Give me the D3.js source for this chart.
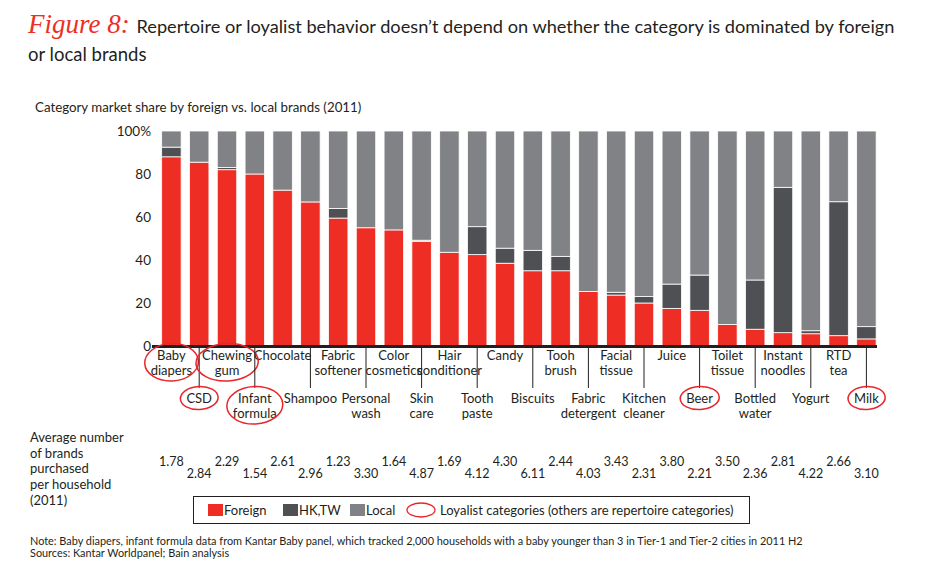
<!DOCTYPE html>
<html><head><meta charset="utf-8">
<script src="https://cdn.jsdelivr.net/npm/d3@7"></script>
<style>
body{margin:0;background:#fff;}
svg{display:block;font-family:Lato,"Open Sans",sans-serif;}
</style></head>
<body><svg id="c" width="950" height="579"></svg>
<script>
const categories = ["Baby\ndiapers","CSD","Chewing\ngum","Infant\nformula","Chocolate","Shampoo","Fabric\nsoftener","Personal\nwash","Color\ncosmetics","Skin\ncare","Hair\nconditioner","Tooth\npaste","Candy","Biscuits","Tooh\nbrush","Fabric\ndetergent","Facial\ntissue","Kitchen\ncleaner","Juice","Beer","Toilet\ntissue","Bottled\nwater","Instant\nnoodles","Yogurt","RTD\ntea","Milk"];
const foreign = [88,85.5,82,80,72.5,67,59.5,55,54,48.7,43.6,42.5,38.5,35,35,25.4,23.7,20,17.5,16.6,10,7.8,6.2,5.7,4.8,3.3];
const hktw    = [4.5,0,1,0,0,0,4.5,0,0,0.5,0,13,7,9.5,6.7,0,1.3,3,11.3,16.4,0,22.9,67.6,1.4,62.3,5.7];
const local   = [7.5,14.5,17,20,27.5,33,36,45,46,50.8,56.4,44.5,54.5,55.5,58.3,74.6,75,77,71.2,67,90,69.3,26.2,92.9,32.9,91];
const avgBrands = ["1.78","2.84","2.29","1.54","2.61","2.96","1.23","3.30","1.64","4.87","1.69","4.12","4.30","6.11","2.44","4.03","3.43","2.31","3.80","2.21","3.50","2.36","2.81","4.22","2.66","3.10"];
const loyalist = ["Baby\ndiapers","CSD","Chewing\ngum","Infant\nformula","Beer","Milk"];
const yTicks = [0,20,40,60,80,100];
const seriesKeys = ["Foreign","HK,TW","Local"];
const colors = {"Foreign":"#ee2e24","HK,TW":"#4f5054","Local":"#808285"};

const svg = d3.select("#c");
const RED = "#ee2e24", INK = "#231f20";

// Title
const t = svg.append("text").attr("x",28).attr("y",33).attr("font-size",18.2).attr("fill",INK);
t.append("tspan").attr("font-family","'Liberation Serif',serif").attr("font-style","italic").attr("fill",RED).attr("font-size",27).text("Figure 8: ");
t.append("tspan").text("Repertoire or loyalist behavior doesn\u2019t depend on whether the category is dominated by foreign");
svg.append("text").attr("x",28).attr("y",61).attr("font-size",18.5).attr("fill",INK).text("or local brands");

svg.append("text").attr("x",35).attr("y",112).attr("font-size",13.3).attr("fill",INK).text("Category market share by foreign vs. local brands (2011)");

// Scales
const x = d3.scaleBand().domain(categories).range([157.5, 157.5+26*27.8]).paddingInner(0.3).paddingOuter(0.15);
const y = d3.scaleLinear().domain([0,100]).range([346,131]);

const rows = categories.map((c,i)=>({cat:c,"Foreign":foreign[i],"HK,TW":hktw[i],"Local":local[i]}));
const stacked = d3.stack().keys(seriesKeys)(rows);

svg.append("g").selectAll("g").data(stacked).join("g")
  .attr("fill",d=>colors[d.key])
  .selectAll("rect").data(d=>d.filter(p=>p[1]-p[0]>0)).join("rect")
  .attr("x",d=>x(d.data.cat)).attr("width",x.bandwidth())
  .attr("y",d=>y(d[1])).attr("height",d=>y(d[0])-y(d[1]))
  .attr("stroke","#fff").attr("stroke-width",0.8);

// y axis
const yAxis = svg.append("g").attr("transform","translate(152,0)")
  .call(d3.axisLeft(y).tickValues(yTicks).tickSize(0).tickPadding(1).tickFormat(d=>d===100?"100%":d));
yAxis.select(".domain").remove();
yAxis.selectAll("text").attr("font-family","Lato,sans-serif").attr("font-size",13.5).attr("fill",INK);

// x axis line
svg.append("line").attr("x1",152).attr("x2",877).attr("y1",346.5).attr("y2",346.5).attr("stroke",INK).attr("stroke-width",3);

// category labels
const lab = svg.append("g").attr("font-size",13).attr("fill",INK).attr("text-anchor","middle");
categories.forEach((c,i)=>{
  const cx = x(c)+x.bandwidth()/2;
  const top = i%2===0;
  if(!top){
    svg.append("line").attr("x1",cx).attr("x2",cx).attr("y1",347).attr("y2",388).attr("stroke",INK).attr("stroke-width",1);
  }
  const lines = c.split("\n");
  const y0 = top?360:403;
  const g = lab.append("g");
  lines.forEach((l,k)=>{
    g.append("text").attr("x",cx).attr("y",y0+k*14.5).text(l);
  });
  if(loyalist.includes(c)){
    const b = g.node().getBBox();
    svg.append("ellipse").attr("cx",b.x+b.width/2).attr("cy",b.y+b.height/2)
      .attr("rx",b.width/2+6).attr("ry",b.height/2+3.5)
      .attr("fill","none").attr("stroke","#e8262b").attr("stroke-width",1.5)
      .attr("transform",`rotate(-3,${b.x+b.width/2},${b.y+b.height/2})`);
  }
});

// Average brands
const avgLbl = ["Average number","of brands","purchased","per household","(2011)"];
avgLbl.forEach((l,k)=>svg.append("text").attr("x",30).attr("y",442+k*15.7).attr("font-size",13).attr("fill",INK).text(l));
categories.forEach((c,i)=>{
  const cx = x(c)+x.bandwidth()/2;
  svg.append("text").attr("x",cx).attr("y",i%2===0?466:478).attr("text-anchor","middle").attr("font-size",12.5).attr("fill",INK).text(avgBrands[i]);
});

// Legend
svg.append("rect").attr("x",193.5).attr("y",496.5).attr("width",556).attr("height",27).attr("fill","none").attr("stroke",INK).attr("stroke-width",1);
const legItems = [["Foreign",208],["HK,TW",283],["Local",350]];
legItems.forEach(([k,lx])=>{
  svg.append("rect").attr("x",lx).attr("y",504).attr("width",15).attr("height",12).attr("fill",colors[k]);
  svg.append("text").attr("x",lx+16).attr("y",515).attr("font-size",13).attr("fill",INK).text(k);
});
svg.append("ellipse").attr("cx",421).attr("cy",510).attr("rx",14).attr("ry",7).attr("fill","none").attr("stroke","#e8262b").attr("stroke-width",1.3);
svg.append("text").attr("x",440).attr("y",515).attr("font-size",13).attr("fill",INK).text("Loyalist categories (others are repertoire categories)");

// Notes
svg.append("text").attr("x",30).attr("y",545).attr("font-size",10.9).attr("fill",INK).text("Note: Baby diapers, infant formula data from Kantar Baby panel, which tracked 2,000 households with a baby younger than 3 in Tier-1 and Tier-2 cities in 2011 H2");
svg.append("text").attr("x",30).attr("y",557).attr("font-size",10.9).attr("fill",INK).text("Sources: Kantar Worldpanel; Bain analysis");
</script></body></html>
